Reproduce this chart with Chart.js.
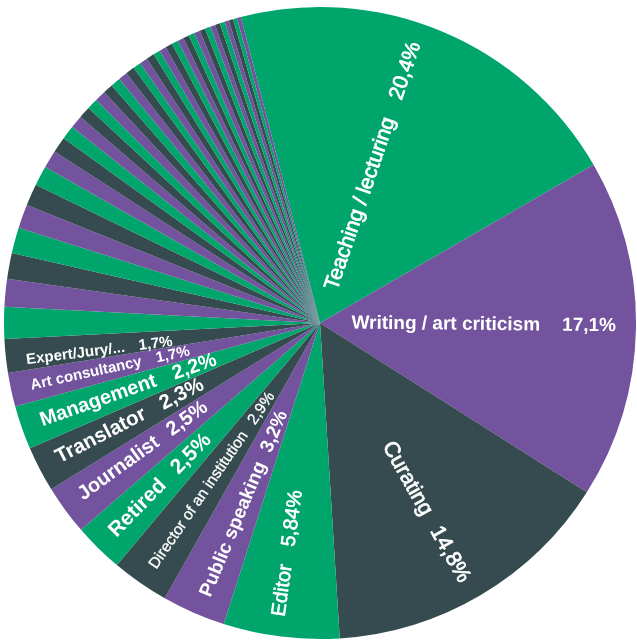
<!DOCTYPE html>
<html>
<head>
<meta charset="utf-8">
<script src="https://cdn.jsdelivr.net/npm/chart.js@4.4.1/dist/chart.umd.min.js"></script>
<style>
  html, body { margin: 0; padding: 0; background: #ffffff; }
  #wrap { width: 637px; height: 640px; }
</style>
</head>
<body>
<div id="wrap"><canvas id="chart" width="637" height="640"></canvas></div>
<script>
// Main occupations, share of respondents (%)
const categories = [
  'Teaching / lecturing',
  'Writing / art criticism',
  'Curating',
  'Editor',
  'Public speaking',
  'Director of an institution',
  'Retired',
  'Journalist',
  'Translator',
  'Management',
  'Art consultancy',
  'Expert/Jury/...'
];
const shares = [20.4, 17.1, 14.8, 5.84, 3.2, 2.9, 2.5, 2.5, 2.3, 2.2, 1.7, 1.7];

// Smaller occupations, unlabelled slices (%)
const minorShares = [
  1.6, 1.4, 1.3, 1.3, 1.2, 1.1, 1.0, 0.9, 0.8, 0.7, 0.65, 0.6, 0.55, 0.55, 0.5, 0.5,
  0.45, 0.45, 0.4, 0.4, 0.4, 0.35, 0.35, 0.35, 0.33, 0.3, 0.3, 0.3, 0.3, 0.28, 0.28,
  0.25, 0.25, 0.25, 0.22, 0.22, 0.2, 0.2
];

const palette = ['#00a56b', '#73529e', '#354b4f'];

// Typography of each slice label; turn = small angular nudge in degrees,
// thicken = extra white outline width giving a medium weight
const labelStyle = [
  { size: 21,   weight: 'normal', thicken: 0.7, gap: 20, turn: -4.0 },
  { size: 19,   weight: 'bold',   thicken: 0,   gap: 22, turn: -0.6 },
  { size: 21.5, weight: 'normal', thicken: 0.7, gap: 16, turn: 1.3 },
  { size: 20,   weight: 'normal', thicken: 0.6, gap: 18, turn: 0.9 },
  { size: 19,   weight: 'bold',   thicken: 0,   gap: 12, turn: -0.8 },
  { size: 15.5, weight: 'normal', thicken: 0.3, gap: 12, turn: -0.3 },
  { size: 21,   weight: 'bold',   thicken: 0,   gap: 16, turn: 0 },
  { size: 20,   weight: 'bold',   thicken: 0,   gap: 14, turn: 0.5 },
  { size: 20.5, weight: 'bold',   thicken: 0,   gap: 18, turn: 0.3 },
  { size: 20,   weight: 'bold',   thicken: 0,   gap: 18, turn: 0 },
  { size: 15,   weight: 'bold',   thicken: 0,   gap: 15, turn: 0 },
  { size: 15,   weight: 'bold',   thicken: 0,   gap: 14, turn: -1.2 }
];

const allValues = shares.concat(minorShares);
const allLabels = categories.concat(minorShares.map(() => ''));
const colours = allValues.map((_, i) => palette[i % palette.length]);

const formatShare = v => String(v).replace('.', ',') + '%';

// Writes each label along its slice, reading outwards on the right
// half and inwards on the left half, so nothing is upside down.
const sliceLabels = {
  id: 'sliceLabels',
  afterDatasetsDraw(chart) {
    const meta = chart.getDatasetMeta(0);
    const ctx = chart.ctx;
    const outer = 296;
    categories.forEach((name, i) => {
      const arc = meta.data[i];
      const st = labelStyle[i];
      const mid = (arc.startAngle + arc.endAngle) / 2 + st.turn * Math.PI / 180;
      const pct = formatShare(shares[i]);
      ctx.save();
      ctx.translate(arc.x, arc.y);
      ctx.font = st.weight + ' ' + st.size + 'px "Liberation Sans", Arial, sans-serif';
      ctx.fillStyle = '#ffffff';
      ctx.strokeStyle = '#ffffff';
      ctx.lineWidth = st.thicken;
      ctx.lineJoin = 'round';
      ctx.textBaseline = 'middle';
      const nameW = ctx.measureText(name).width;
      const pctW = ctx.measureText(pct).width;
      const put = (txt, x) => {
        ctx.fillText(txt, x, 0);
        if (st.thicken > 0) ctx.strokeText(txt, x, 0);
      };
      if (Math.cos(mid) >= 0) {
        ctx.rotate(mid);
        ctx.textAlign = 'right';
        put(pct, outer);
        put(name, outer - pctW - st.gap);
      } else {
        ctx.rotate(mid + Math.PI);
        ctx.textAlign = 'left';
        put(name, -outer);
        put(pct, -outer + nameW + st.gap);
      }
      ctx.restore();
    });
  }
};

new Chart(document.getElementById('chart'), {
  type: 'pie',
  data: {
    labels: allLabels,
    datasets: [{
      data: allValues,
      backgroundColor: colours,
      borderWidth: 0
    }]
  },
  options: {
    responsive: false,
    animation: false,
    rotation: -14.5,
    layout: { padding: { left: 4, right: 1, top: 7, bottom: 1 } },
    plugins: {
      legend: { display: false },
      tooltip: { enabled: false }
    }
  },
  plugins: [sliceLabels]
});
</script>
</body>
</html>
